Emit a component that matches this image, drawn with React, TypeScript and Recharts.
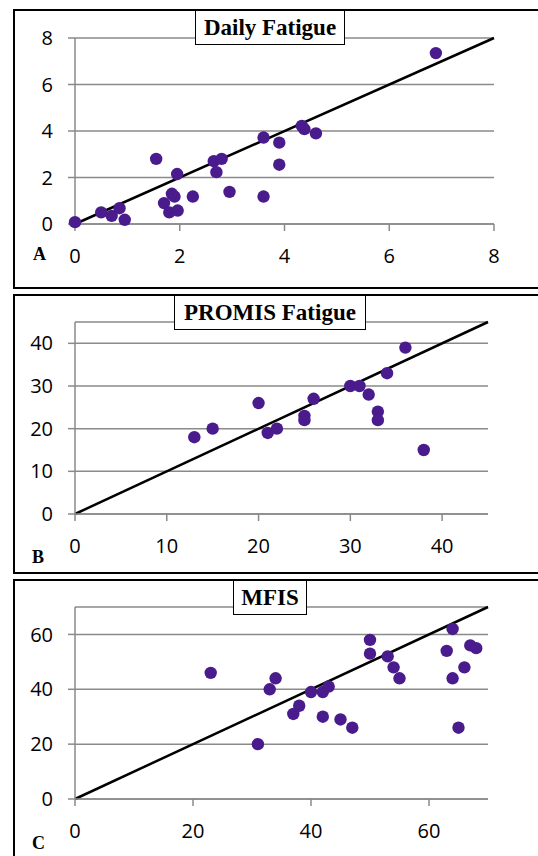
import React from 'react';
import { ScatterChart, Scatter, XAxis, YAxis, CartesianGrid, ReferenceLine } from 'recharts';

// Panel A: Daily Fatigue
const dailyX = [0, 0.5, 0.7, 0.85, 0.95, 1.55, 1.7, 1.8, 1.85, 1.9, 1.96, 1.95, 2.25, 2.65, 2.8, 2.7, 2.95, 3.6, 3.6, 3.9, 3.9, 4.33, 4.38, 4.6, 6.89];
const dailyY = [0.08, 0.5, 0.35, 0.68, 0.18, 2.8, 0.9, 0.5, 1.3, 1.18, 0.58, 2.15, 1.18, 2.7, 2.8, 2.23, 1.38, 3.72, 1.18, 3.5, 2.55, 4.22, 4.08, 3.9, 7.35];
const dailyTicks = [0, 2, 4, 6, 8];

// Panel B: PROMIS Fatigue
const promisX = [13, 15, 20, 21, 22, 25, 25, 26, 30, 31, 32, 33, 33, 34, 36, 38];
const promisY = [18, 20, 26, 19, 20, 23, 22, 27, 30, 30, 28, 24, 22, 33, 39, 15];
const promisTicks = [0, 10, 20, 30, 40];

// Panel C: MFIS
const mfisX = [23, 31, 33, 34, 37, 38, 40, 42, 42, 43, 45, 47, 50, 50, 53, 54, 55, 63, 64, 64, 65, 66, 67, 68];
const mfisY = [46, 20, 40, 44, 31, 34, 39, 39, 30, 41, 29, 26, 58, 53, 52, 48, 44, 54, 62, 44, 26, 48, 56, 55];
const mfisTicks = [0, 20, 40, 60];

const toPoints = (xs: number[], ys: number[]) => xs.map((x, i) => ({ x, y: ys[i] }));

const PURPLE = '#4a1b8c';
const GRAY = '#8a8a8a';
const tickStyle = { fontFamily: '"Open Sans", sans-serif', fontSize: 20, fill: '#000' };

const Dot = (p: any) => <circle cx={p.cx} cy={p.cy} r={6.2} fill={PURPLE} />;

type PanelProps = {
  top: number;
  height: number;
  max: number;
  ticks: number[];
  data: { x: number; y: number }[];
  margin: { top: number; right: number; bottom: number; left: number };
};

const Panel = ({ top, height, max, ticks, data, margin }: PanelProps) => (
  <div style={{ position: 'absolute', left: 0, top, width: 538, height }}>
    <ScatterChart width={538} height={height} margin={margin}>
      <CartesianGrid vertical={false} stroke={GRAY} strokeWidth={1.5} />
      <XAxis
        type="number"
        dataKey="x"
        domain={[0, max]}
        ticks={ticks}
        height={30}
        tickSize={7}
        tickMargin={18}
        axisLine={{ stroke: GRAY, strokeWidth: 1.5 }}
        tickLine={{ stroke: GRAY, strokeWidth: 1.5 }}
        tick={tickStyle}
        interval={0}
      />
      <YAxis
        type="number"
        dataKey="y"
        domain={[0, max]}
        ticks={ticks}
        width={60}
        tickSize={7}
        tickMargin={15}
        axisLine={{ stroke: GRAY, strokeWidth: 1.5 }}
        tickLine={{ stroke: GRAY, strokeWidth: 1.5 }}
        tick={tickStyle}
        interval={0}
      />
      <ReferenceLine
        segment={[{ x: 0, y: 0 }, { x: max, y: max }]}
        stroke="#000"
        strokeWidth={2.5}
        ifOverflow="visible"
      />
      <Scatter data={data} fill={PURPLE} shape={Dot} isAnimationActive={false} />
    </ScatterChart>
  </div>
);

const boxStyle = (left: number, top: number, height: number | string): React.CSSProperties => ({
  position: 'absolute',
  left,
  top,
  width: 700,
  height,
  border: '2px solid #000',
  boxSizing: 'border-box',
});

const titleStyle = (left: number, top: number, width: number): React.CSSProperties => ({
  position: 'absolute',
  left,
  top,
  width,
  height: 35,
  border: '1.5px solid #000',
  boxSizing: 'border-box',
  background: '#fff',
  fontFamily: '"Liberation Serif", "Times New Roman", serif',
  fontWeight: 'bold',
  fontSize: 23,
  lineHeight: '33px',
  textAlign: 'center',
  color: '#000',
  whiteSpace: 'nowrap',
});

const letterStyle = (left: number, top: number): React.CSSProperties => ({
  position: 'absolute',
  left,
  top,
  fontFamily: '"Liberation Serif", "Times New Roman", serif',
  fontWeight: 'bold',
  fontSize: 18,
  lineHeight: '18px',
  color: '#000',
});

export default function App() {
  return (
    <div style={{ position: 'absolute', left: 0, top: 0, width: 538, height: 856, overflow: 'hidden', background: '#fff' }}>
      <div style={boxStyle(13, 9, 280)} />
      <div style={boxStyle(13, 294, 280)} />
      <div style={boxStyle(13, 579, 300)} />

      <Panel top={0} height={290} max={8} ticks={dailyTicks} data={toPoints(dailyX, dailyY)}
        margin={{ top: 38, right: 44, bottom: 36, left: 15 }} />
      <Panel top={285} height={290} max={45} ticks={promisTicks} data={toPoints(promisX, promisY)}
        margin={{ top: 37, right: 50, bottom: 31, left: 15 }} />
      <Panel top={570} height={286} max={70} ticks={mfisTicks} data={toPoints(mfisX, mfisY)}
        margin={{ top: 37, right: 50, bottom: 27, left: 15 }} />

      <div style={titleStyle(195, 10, 150)}>Daily Fatigue</div>
      <div style={titleStyle(174, 295, 192)}>PROMIS Fatigue</div>
      <div style={titleStyle(233, 580, 74)}>MFIS</div>

      <div style={letterStyle(33, 245)}>A</div>
      <div style={letterStyle(32, 548)}>B</div>
      <div style={letterStyle(32, 834)}>C</div>
    </div>
  );
}
